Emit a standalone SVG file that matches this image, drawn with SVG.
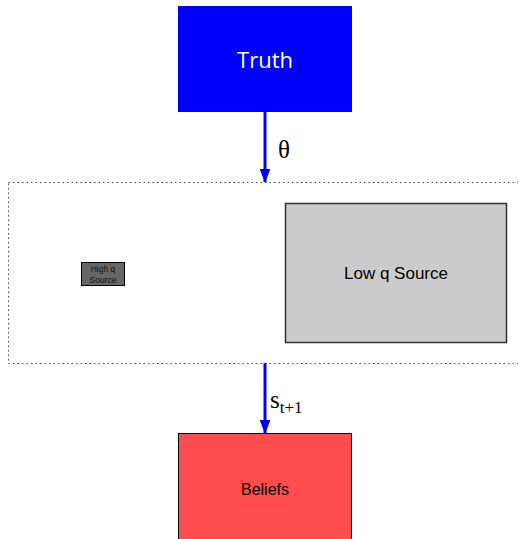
<svg xmlns="http://www.w3.org/2000/svg" width="518" height="539" viewBox="0 0 518 539">
<style>
.sans{font-family:"Liberation Sans",Arial,sans-serif}
.serif{font-family:"Liberation Serif","Times New Roman",serif}
.arrow{stroke:#0000ff;stroke-width:3;fill:none}
</style>
<defs>
<marker id="ah" markerWidth="14" markerHeight="14" refX="17" refY="7" orient="auto" markerUnits="userSpaceOnUse" viewBox="0 0 18 14">
<path d="M0,0 L18,7 L0,14 Z" fill="#0000ff"/>
</marker>
</defs>
<rect width="518" height="539" fill="#fff"/>
<g id="container">
<rect x="8.5" y="182.5" width="520" height="181" fill="none" stroke="#444" stroke-width="1" stroke-dasharray="1.5,3"/>
</g>
<g id="truth">
<rect x="178" y="6" width="174" height="106" fill="#0000ff"/>
<text x="265" y="68" text-anchor="middle" font-size="22" fill="#fff" font-family="'Open Sans',sans-serif">Truth</text>
</g>
<g id="high-q">
<rect x="81.5" y="262.5" width="43" height="23" fill="#666" stroke="#000" stroke-width="1"/>
<text x="103" y="272" text-anchor="middle" class="sans" font-size="8.5" fill="#111">High q</text>
<text x="103" y="282.5" text-anchor="middle" class="sans" font-size="8.5" fill="#111">Source</text>
</g>
<g id="low-q">
<rect x="285.5" y="203.5" width="221" height="139" fill="#cccccc" stroke="#333" stroke-width="1.5"/>
<text x="396" y="279" text-anchor="middle" class="sans" font-size="17" fill="#000">Low q Source</text>
</g>
<g id="beliefs">
<rect x="178.5" y="433.5" width="173" height="110" fill="#ff4d4d" stroke="#000" stroke-width="1"/>
<text x="265" y="495" text-anchor="middle" class="sans" font-size="16" fill="#000">Beliefs</text>
</g>
<g id="connectors">
<line class="arrow" x1="265" y1="112" x2="265" y2="182" marker-end="url(#ah)"/>
<line class="arrow" x1="265" y1="363" x2="265" y2="433" marker-end="url(#ah)"/>
<text x="278" y="158" class="serif" font-size="25" fill="#000">θ</text>
<text x="270" y="408" class="serif" font-size="25" fill="#000">s<tspan font-size="17" dy="5">t+1</tspan></text>
</g>
</svg>
